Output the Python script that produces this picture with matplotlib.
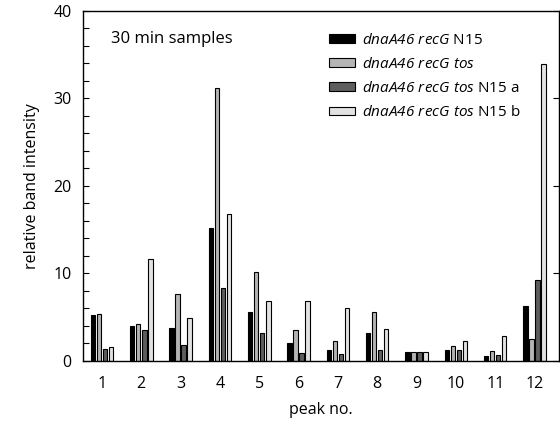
import matplotlib
matplotlib.use("Agg")
import matplotlib.pyplot as plt
import numpy as np

plt.rcParams['font.family'] = ['Open Sans', 'DejaVu Sans']
plt.rcParams['mathtext.fontset'] = 'custom'
plt.rcParams['mathtext.rm'] = 'Open Sans:italic'
plt.rcParams['mathtext.it'] = 'Open Sans:italic'

peaks = [str(i) for i in range(1, 13)]
recG_N15 = [5.2, 4.0, 3.8, 15.2, 5.6, 2.0, 1.3, 3.2, 1.0, 1.2, 0.6, 6.3]
recG_tos = [5.4, 4.2, 7.7, 31.2, 10.2, 3.5, 2.3, 5.6, 1.0, 1.7, 1.1, 2.5]
recG_tos_N15a = [1.4, 3.5, 1.8, 8.3, 3.2, 0.9, 0.8, 1.2, 1.0, 1.2, 0.7, 9.2]
recG_tos_N15b = [1.6, 11.6, 4.9, 16.8, 6.8, 6.8, 6.1, 3.7, 1.0, 2.3, 2.9, 33.9]

series = [recG_N15, recG_tos, recG_tos_N15a, recG_tos_N15b]
labels = [r'$dnaA46\ recG$ N15',
          r'$dnaA46\ recG\ tos$',
          r'$dnaA46\ recG\ tos$ N15 a',
          r'$dnaA46\ recG\ tos$ N15 b']
colors = ['#000000', '#b4b4b4', '#5e5e5e', '#e2e2e2']

fig = plt.figure(figsize=(5.6, 4.23), dpi=100)
ax = fig.add_axes([0.148, 0.1466, 0.850, 0.8274])

x = np.arange(1, 13)
pitch = 0.153
width = 0.115
for i, (vals, lab, col) in enumerate(zip(series, labels, colors)):
    ax.bar(x + (i - 1.5) * pitch, vals, width=width, color=col,
           edgecolor='black', linewidth=0.8, label=lab)

ax.set_xlim(0.516, 12.62)
ax.set_ylim(0, 40)
ax.set_xticks(x)
ax.set_xticklabels(peaks, fontsize=11.5)
ax.tick_params(axis='x', length=0, pad=11)
ax.set_yticks([0, 10, 20, 30, 40])
ax.set_yticks(np.arange(0, 40, 2), minor=True)
ax.tick_params(axis='y', which='both', direction='in', labelsize=11.5,
               right=True, length=4, width=0.8, pad=8)
ax.tick_params(axis='y', which='minor', right=False, length=4)
for s in ax.spines.values():
    s.set_linewidth(1.0)

ax.set_xlabel('peak no.', fontsize=11.5, labelpad=7)
ax.set_ylabel('relative band intensity', fontsize=11.5, labelpad=10)

ax.text(0.06, 0.92, '30 min samples', transform=ax.transAxes,
        fontsize=12, va='center', ha='left')

leg = ax.legend(loc='upper left', bbox_to_anchor=(0.505, 0.955), frameon=False,
                fontsize=11, handlelength=1.65, handleheight=0.5,
                handletextpad=0.5, labelspacing=0.6, borderaxespad=0)

fig.savefig('out.png', dpi=100)
